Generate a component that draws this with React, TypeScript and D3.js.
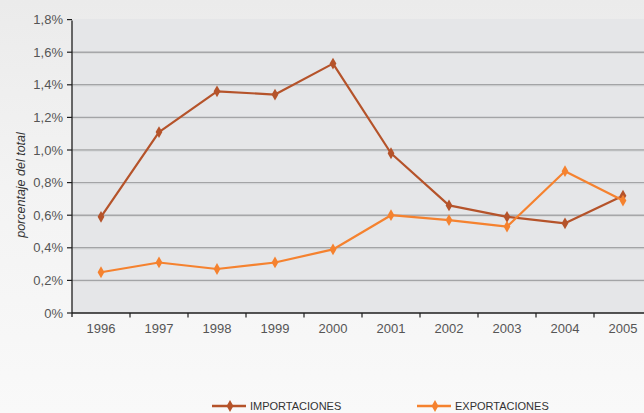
import React from "react";
import * as d3 from "d3";

const years = ["1996", "1997", "1998", "1999", "2000", "2001", "2002", "2003", "2004", "2005"];
const importaciones = [0.59, 1.11, 1.36, 1.34, 1.53, 0.98, 0.66, 0.59, 0.55, 0.72];
const exportaciones = [0.25, 0.31, 0.27, 0.31, 0.39, 0.60, 0.57, 0.53, 0.87, 0.69];
const yTicks = [0, 0.2, 0.4, 0.6, 0.8, 1.0, 1.2, 1.4, 1.6, 1.8];
const seriesNames = ["IMPORTACIONES", "EXPORTACIONES"];
const seriesColors = ["#b5532a", "#f5822f"];

const W = 644;
const H = 413;
const left = 72;
const right = 652;
const top = 19.6;
const bottom = 313;

export default function App() {
  const x = d3.scaleBand<string>().domain(years).range([left, right]);
  const y = d3.scaleLinear().domain([0, 1.8]).range([bottom, top]);
  const line = d3
    .line<number>()
    .x((_, i) => (x(years[i]) as number) + x.bandwidth() / 2)
    .y((d) => y(d));
  const sym = d3.symbol().type(d3.symbolDiamond).size(40);
  const fmt = (v: number) => (v === 0 ? "0%" : v.toFixed(1).replace(".", ",") + "%");
  const data = [importaciones, exportaciones];
  const font = "'Liberation Sans', Arial, Helvetica, sans-serif";

  return (
    <svg
      width={W}
      height={H}
      style={{ position: "absolute", left: 0, top: 0, display: "block" }}
      fontFamily={font}
    >
      <defs>
        <linearGradient id="bg" x1="0" y1="0" x2="0" y2="1">
          <stop offset="0" stopColor="#ebebeb" />
          <stop offset="0.45" stopColor="#f3f3f3" />
          <stop offset="1" stopColor="#f9f9f9" />
        </linearGradient>
      </defs>
      <rect x={0} y={0} width={W} height={H} fill="url(#bg)" />
      <rect x={left} y={top - 0.6} width={right - left} height={bottom - top + 0.6} fill="#e5e6e8" />
      {yTicks.slice(1, -1).map((t) => (
        <g key={t}>
          <line x1={left} x2={right} y1={y(t)} y2={y(t)} stroke="#a3a4a6" strokeWidth={1.4} />
          <line x1={left} x2={right} y1={y(t) + 1.2} y2={y(t) + 1.2} stroke="#d4d5d7" strokeWidth={0.8} />
        </g>
      ))}
      {/* Y axis */}
      <line x1={left} x2={left} y1={y(1.8) + 1} y2={bottom + 4} stroke="#1e1e1e" strokeWidth={1.3} />
      {yTicks.map((t) => (
        <g key={"yt" + t}>
          <line x1={left - 5} x2={left} y1={y(t)} y2={y(t)} stroke="#1e1e1e" strokeWidth={1.2} />
          <text x={left - 9} y={y(t)} dy="0.35em" textAnchor="end" fontSize={13} fill="#555">
            {fmt(t)}
          </text>
        </g>
      ))}
      {/* X axis */}
      <line x1={left} x2={right} y1={bottom} y2={bottom} stroke="#1e1e1e" strokeWidth={1.4} />
      {years.map((yr) => (
        <g key={"xt" + yr}>
          <line
            x1={(x(yr) as number) + x.bandwidth()}
            x2={(x(yr) as number) + x.bandwidth()}
            y1={bottom}
            y2={bottom + 4.5}
            stroke="#1e1e1e"
            strokeWidth={1.2}
          />
          <text
            x={(x(yr) as number) + x.bandwidth() / 2}
            y={bottom + 15}
            dy="0.35em"
            textAnchor="middle"
            fontSize={13}
            fill="#555"
          >
            {yr}
          </text>
        </g>
      ))}
      <text
        transform={`translate(21,185) rotate(-90)`}
        textAnchor="middle"
        dy="0.35em"
        fontSize={12.5}
        fontStyle="italic"
        fill="#333"
      >
        porcentaje del total
      </text>
      {data.map((s, si) => (
        <g key={"s" + si}>
          <path d={line(s) || ""} fill="none" stroke={seriesColors[si]} strokeWidth={2.2} strokeLinejoin="round" />
          {s.map((v, i) => (
            <path
              key={i}
              transform={`translate(${(x(years[i]) as number) + x.bandwidth() / 2},${y(v)})`}
              d={sym() || ""}
              fill={seriesColors[si]}
            />
          ))}
        </g>
      ))}
      {/* Legend */}
      {seriesNames.map((n, i) => {
        const lx = i === 0 ? 212 : 417;
        const ly = 406;
        return (
          <g key={"lg" + n}>
            <line x1={lx} x2={lx + 34} y1={ly} y2={ly} stroke={seriesColors[i]} strokeWidth={2.6} />
            <path transform={`translate(${lx + 18},${ly})`} d={sym() || ""} fill={seriesColors[i]} />
            <text x={lx + 38} y={ly} dy="0.35em" fontSize={11} fill="#333">
              {n}
            </text>
          </g>
        );
      })}
    </svg>
  );
}
